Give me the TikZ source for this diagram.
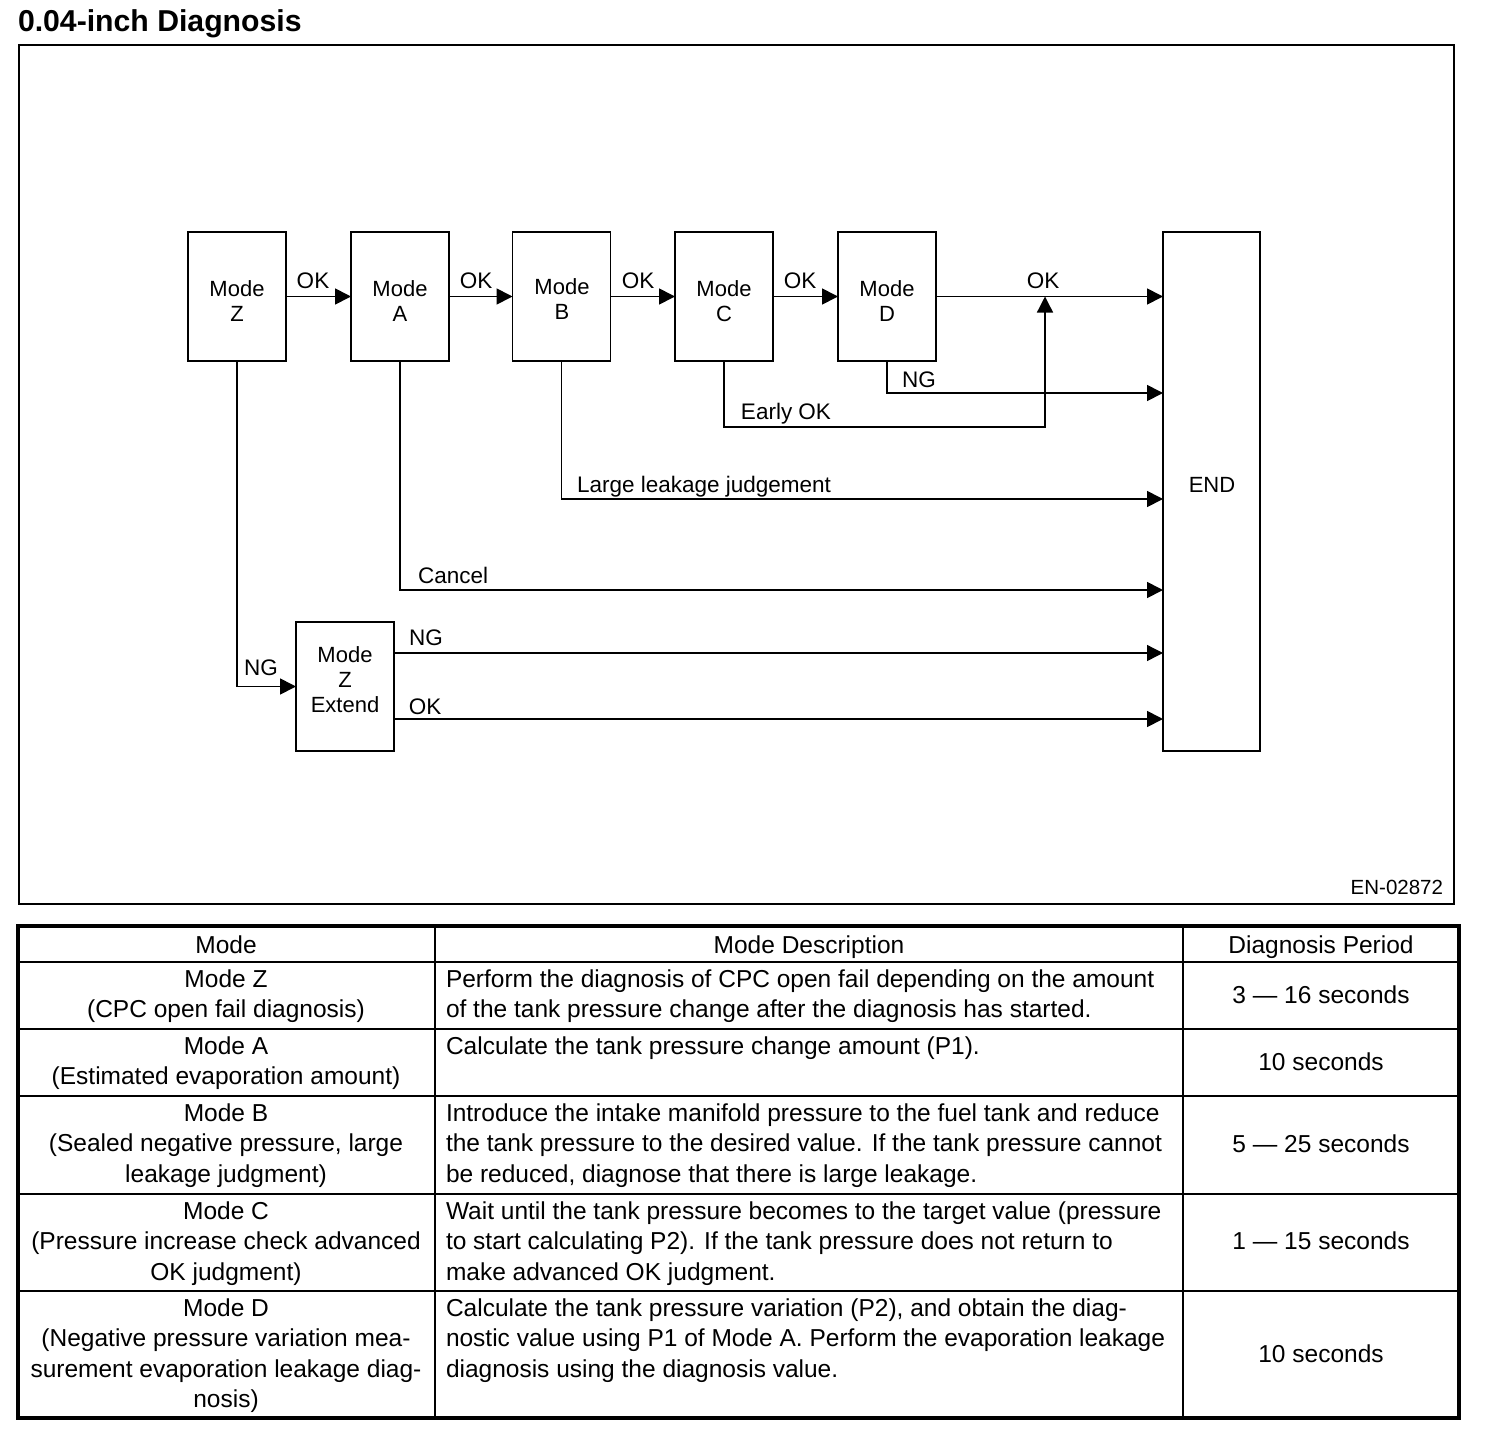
\documentclass[tikz,border=0pt]{standalone}
\usepackage{fontspec}
\setmainfont{Liberation Sans}
\usetikzlibrary{arrows.meta,calc}
\newcommand\txtlines[7]{\foreach \myline [count=\k from 0] in {#7}{\node[#6,anchor=#4] (#1\k) at (#2,{#3+#5*\k}) {\myline};}}
\begin{document}
\begin{tikzpicture}[x=1pt,y=-1pt,
 every node/.style={inner sep=0pt, outer sep=0pt},
 modebox/.style={draw, line width=1.8pt, minimum width=98pt, minimum height=129pt},
 boxtext/.style={font=\fontsize{22}{25}\selectfont},
 lbl/.style={font=\fontsize{22.5}{25}\selectfont},
 conn/.style={line width=1.7pt},
 arr/.style={conn, -{Triangle[length=16pt,width=16pt]}},
 tabtext/.style={font=\fontsize{24.5}{30}\selectfont},
 frame/.style={draw, line width=2pt},
 tabouter/.style={draw, line width=3.5pt},
 tabline/.style={line width=2.2pt},
]
\useasboundingbox (0,0) rectangle (1504,1440);
% title
\node[anchor=base west, font=\bfseries\fontsize{30.2}{33}\selectfont] (title) at (18,31) {0.04-inch Diagnosis};
% frame
\draw[frame] (19,45) rectangle (1454,904);
\node[anchor=base east, font=\fontsize{20.5}{24}\selectfont] (code) at (1443,894) {EN-02872};

% boxes
\node[modebox] (mz) at (237,296.5) {};
\node[modebox] (ma) at (400,296.5) {};
\node[modebox] (mb) at (561.5,296.5) {};
\node[modebox] (mc) at (724,296.5) {};
\node[modebox] (md) at (887,296.5) {};
\node[modebox] (mzx) at (345,686.5) {};
\node[modebox, minimum width=97pt, minimum height=519pt] (endn) at (1211.5,491.5) {};

\txtlines{tz}{237}{296}{base}{25}{boxtext}{Mode,Z}
\txtlines{ta}{400}{296}{base}{25}{boxtext}{Mode,A}
\txtlines{tb}{562}{294}{base}{25}{boxtext}{Mode,B}
\txtlines{tc}{724}{296}{base}{25}{boxtext}{Mode,C}
\txtlines{td}{887}{296}{base}{25}{boxtext}{Mode,D}
\txtlines{tx}{345}{662}{base}{25}{boxtext}{Mode,Z,Extend}
\node[boxtext, anchor=base] (tend) at (1212,492) {END};

% connectors
\draw[arr] (mz.east) -- (ma.west);
\draw[arr] (ma.east) -- (mb.west);
\draw[arr] (mb.east) -- (mc.west);
\draw[arr] (mc.east) -- (md.west);
\draw[arr] (md.east) -- (md.east -| endn.west);
\coordinate (eoc) at (1045,427);
\coordinate (eot) at (1045,296.5);
\draw[arr, line width=1.3pt] (mc.south) |- (eoc) -- (eot);
\coordinate (eng) at (1163,393);
\draw[arr] (md.south) |- (eng);
\coordinate (ell) at (1163,499);
\draw[arr] (mb.south) |- (ell);
\coordinate (ecan) at (1163,590);
\draw[arr] (ma.south) |- (ecan);
\draw[arr] (mz.south) |- (mzx.west);
\coordinate (zng) at (394,653);
\draw[arr, line width=1.3pt] (zng) -- (zng -| endn.west);
\coordinate (zok) at (394,719);
\draw[arr] (zok) -- (zok -| endn.west);

% labels
\node[lbl, anchor=base] (l1) at (313,288) {OK};
\node[lbl, anchor=base] (l2) at (476,288) {OK};
\node[lbl, anchor=base] (l3) at (638,288) {OK};
\node[lbl, anchor=base] (l4) at (800,288) {OK};
\node[lbl, anchor=base] (l5) at (1043,288) {OK};
\node[lbl, anchor=base] (l6) at (919,387) {NG};
\node[lbl, anchor=base] (l7) at (786,419) {Early OK};
\node[lbl, anchor=base west] (l8) at (577,492) {Large leakage judgement};
\node[lbl, anchor=base west] (l9) at (418,583) {Cancel};
\node[lbl, anchor=base] (l10) at (261,675) {NG};
\node[lbl, anchor=base] (l11) at (426,645) {NG};
\node[lbl, anchor=base] (l12) at (425,714) {OK};

% table
\draw[tabline] (18,962) -- (1459,962);
\draw[tabline] (18,1029) -- (1459,1029);
\draw[tabline] (18,1096) -- (1459,1096);
\draw[tabline] (18,1194) -- (1459,1194);
\draw[tabline] (18,1291) -- (1459,1291);
\draw[tabline] (435,926) -- (435,1418);
\draw[tabline] (1183,926) -- (1183,1418);
\draw[tabouter] (18,926) rectangle (1459,1418);

\node[tabtext, anchor=base] (h1) at (226,953) {Mode};
\node[tabtext, anchor=base] (h2) at (809,953) {Mode Description};
\node[tabtext, anchor=base] (h3) at (1321,953) {Diagnosis Period};

\txtlines{ra}{226}{987}{base}{30.5}{tabtext}{{Mode Z},{(CPC open fail diagnosis)}}
\txtlines{rad}{446}{987}{base west}{30.5}{tabtext}{{Perform the diagnosis of CPC open fail depending on the amount},{of the tank pressure change after the diagnosis has started.}}
\node[tabtext, anchor=base] (rap) at (1321,1003) {3 — 16 seconds};

\txtlines{rb}{226}{1054}{base}{30.5}{tabtext}{{Mode A},{(Estimated evaporation amount)}}
\txtlines{rbd}{446}{1054}{base west}{30.5}{tabtext}{{Calculate the tank pressure change amount (P1).}}
\node[tabtext, anchor=base] (rbp) at (1321,1070) {10 seconds};

\txtlines{rc}{226}{1121}{base}{30.5}{tabtext}{{Mode B},{(Sealed negative pressure, large},{leakage judgment)}}
\txtlines{rcd}{446}{1121}{base west}{30.5}{tabtext}{{Introduce the intake manifold pressure to the fuel tank and reduce},{the tank pressure to the desired value. If the tank pressure cannot},{be reduced, diagnose that there is large leakage.}}
\node[tabtext, anchor=base] (rcp) at (1321,1152) {5 — 25 seconds};

\txtlines{rd}{226}{1219}{base}{30.5}{tabtext}{{Mode C},{(Pressure increase check advanced},{OK judgment)}}
\txtlines{rdd}{446}{1219}{base west}{30.5}{tabtext}{{Wait until the tank pressure becomes to the target value (pressure},{to start calculating P2). If the tank pressure does not return to},{make advanced OK judgment.}}
\node[tabtext, anchor=base] (rdp) at (1321,1249) {1 — 15 seconds};

\txtlines{re}{226}{1316}{base}{30.6}{tabtext}{{Mode D},{(Negative pressure variation mea-},{surement evaporation leakage diag-},{nosis)}}
\txtlines{red}{446}{1316}{base west}{30.6}{tabtext}{{Calculate the tank pressure variation (P2), and obtain the diag-},{nostic value using P1 of Mode A. Perform the evaporation leakage},{diagnosis using the diagnosis value.}}
\node[tabtext, anchor=base] (rep) at (1321,1362) {10 seconds};
\end{tikzpicture}
\end{document}
